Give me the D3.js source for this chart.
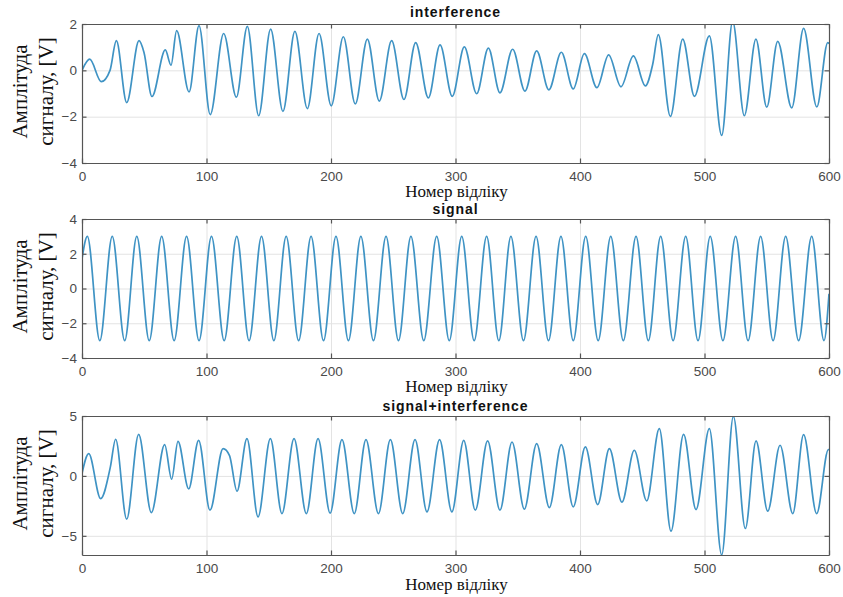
<!DOCTYPE html>
<html>
<head>
<meta charset="utf-8">
<script src="https://cdn.jsdelivr.net/npm/d3@7"></script>
<style>
  html, body { margin: 0; padding: 0; background: #fff; }
  svg { display: block; }
</style>
</head>
<body>
<svg id="chart" width="843" height="597"></svg>
<script>
// ---------- data ----------
const xTicks = [0, 100, 200, 300, 400, 500, 600];
const yTicksInterference = [-4, -2, 0, 2];
const yTicksSignal = [-4, -2, 0, 2, 4];
const yTicksSum = [-5, 0, 5];

const titles = ["interference", "signal", "signal+interference"];
const xLabel = "Номер відліку";
const yLabel1 = "Амплітуда";
const yLabel2 = "сигналу, [V]";

// interference: [sample, value] at extrema / bends
const interference = [
  [0, 0], [6.2, 0.48], [15.5, -0.49], [22.5, 0.0], [27.6, 1.28], [35.9, -1.39],
  [45.8, 1.28], [49.8, 0.77], [56.2, -1.13], [66.9, 0.88], [71.5, 0.22], [76, 1.71],
  [86, -0.93], [94, 1.93], [103, -1.91], [113.8, 1.59], [124, -1.16], [132.8, 1.90],
  [141.9, -1.96], [151.5, 1.78], [161.4, -1.77], [171, 1.68], [181, -1.65], [190.4, 1.59],
  [200.2, -1.53], [209.9, 1.45], [219.5, -1.45], [229.2, 1.35], [238.8, -1.33], [248.7, 1.28],
  [258.6, -1.26], [268, 1.20], [278.2, -1.19], [287.6, 1.10], [297.4, -1.12], [307.1, 1.01],
  [317, -1.01], [326.4, 0.96], [335.7, -0.97], [345.9, 0.91], [355.8, -0.90], [365.2, 0.84],
  [375, -0.84], [385, 0.78], [394.6, -0.80], [403.5, 0.72], [413.6, -0.75], [423, 0.67],
  [432.9, -0.71], [442.9, 0.62], [452.5, -0.67], [458.4, 0.26], [462.9, 1.54], [472.6, -1.99],
  [482.5, 1.35], [491.9, -1.12], [503.9, 1.49], [513.8, -2.81], [522.6, 2.12], [532, -1.96],
  [541.3, 1.35], [550, -1.59], [558.8, 1.25], [570.1, -1.62], [579.6, 1.81], [590.2, -1.58],
  [599, 1.20], [600, 1.15]
];

// signal: [sample, value] at extrema
const signal = [
  [0, 1.7], [4.3, 3], [14.3, -3], [24.3, 3], [34.3, -3], [44, 3], [54, -3], [64, 3], [74, -3],
  [84, 3], [94, -3], [104, 3], [114.2, -3], [124.3, 3], [134.2, -3], [144.2, 3], [154.1, -3],
  [164, 3], [174, -3], [184, 3], [194, -3], [204, 3], [214, -3], [224, 3], [234.1, -3],
  [244.2, 3], [254.2, -3], [264.2, 3], [274.5, -3], [284.9, 3], [295, -3], [305, 3], [315, -3],
  [325, 3], [334.8, -3], [344.5, 3], [354.6, -3], [364.7, 3], [374.7, -3], [384.7, 3], [394.6, -3],
  [404.6, 3], [414.6, -3], [424.7, 3], [434.8, -3], [445, 3], [454.9, -3], [464.8, 3], [474.8, -3],
  [484.9, 3], [494.8, -3], [504.6, 3], [514.8, -3], [525, 3], [535, -3], [545.1, 3], [555.1, -3],
  [565.2, 3], [575.6, -3], [586.1, 3], [596, -3], [600, -0.3]
];

// signal + interference: [sample, value] at extrema / bends
const sum = [
  [0, 0.2], [5.4, 1.86], [15, -1.89], [22.8, 0.75], [27, 3.06], [35.9, -3.61], [45.5, 3.47],
  [55.7, -3.06], [66.4, 2.61], [72, -0.28], [77.1, 2.89], [85.7, -1.08], [93.7, 2.97],
  [102.8, -2.86], [113.3, 2.28], [118.5, 1.7], [124.5, -1.28], [132.5, 3.11], [141.4, -3.42],
  [151.3, 3.11], [160.6, -3.14], [170.3, 3.11], [180.2, -3.14], [189.6, 3.11], [199.3, -3.10],
  [208.8, 3.03], [218.7, -3.14], [228.1, 3.03], [238.1, -3.14], [247.7, 3.03], [257.6, -3.14],
  [267.5, 3.03], [277.1, -3.0], [287.2, 3.03], [297.1, -3.0], [306.6, 2.97], [315.9, -2.86],
  [325.8, 2.92], [335.7, -2.86], [345.4, 2.83], [355.3, -2.78], [365.2, 2.69], [375.4, -2.64],
  [385, 2.61], [394.6, -2.58], [404.3, 2.42], [414.2, -2.39], [423.6, 2.28], [433.7, -2.19],
  [443.6, 2.14], [453.6, -2.08], [463.7, 3.94], [473.1, -4.61], [483.2, 3.47], [493.2, -2.81],
  [503.9, 3.94], [513.8, -6.6], [523.2, 4.97], [532.8, -4.39], [541.4, 2.92], [550.8, -2.94],
  [560.7, 2.56], [570.9, -3.14], [579.6, 3.44], [590.1, -3.14], [599.5, 2.2], [600, 2.19]
];

// ---------- layout ----------
const panels = [
  { title: titles[0], data: interference, yDomain: [-4, 2], yTicks: yTicksInterference,
    top: 24, bottom: 163, titleY: 17, xLabelY: 197 },
  { title: titles[1], data: signal, yDomain: [-4, 4], yTicks: yTicksSignal,
    top: 219, bottom: 358, titleY: 214, xLabelY: 392 },
  { title: titles[2], data: sum, yDomain: [-6.6, 5], yTicks: yTicksSum,
    top: 416, bottom: 555, titleY: 411, xLabelY: 590 }
];

const left = 82, right = 829;
const svg = d3.select("#chart");
const sans = "'Liberation Sans', Arial, Helvetica, sans-serif";
const serif = "'Liberation Serif', 'Times New Roman', serif";
const lineColor = "#3f93c4";
const fmt = d3.format("d");

const x = d3.scaleLinear().domain([0, 600]).range([left, right]);

panels.forEach((p, i) => {
  const y = d3.scaleLinear().domain(p.yDomain).range([p.bottom, p.top]);
  const h = p.bottom - p.top, w = right - left;
  const g = svg.append("g");

  // grid
  const gx = g.append("g").attr("transform", `translate(0,${p.bottom})`)
    .call(d3.axisBottom(x).tickValues(xTicks).tickSize(-h).tickFormat(""));
  const gy = g.append("g").attr("transform", `translate(${left},0)`)
    .call(d3.axisLeft(y).tickValues(p.yTicks).tickSize(-w).tickFormat(""));
  [gx, gy].forEach(a => {
    a.select(".domain").remove();
    a.selectAll("line").attr("stroke", "#e3e3e3").attr("stroke-width", 1);
  });

  // clip
  svg.append("clipPath").attr("id", "clip" + i)
    .append("rect").attr("x", left).attr("y", p.top).attr("width", w).attr("height", h);

  // line
  const line = d3.line().x(d => x(d[0])).y(d => y(d[1])).curve(d3.curveMonotoneX);
  g.append("path").datum(p.data)
    .attr("clip-path", `url(#clip${i})`)
    .attr("fill", "none").attr("stroke", lineColor).attr("stroke-width", 1.7)
    .attr("stroke-linejoin", "round")
    .attr("d", line);

  // axes (box with inward ticks)
  const axB = g.append("g").attr("transform", `translate(0,${p.bottom})`)
    .call(d3.axisBottom(x).tickValues(xTicks).tickSizeInner(-4.5).tickSizeOuter(0)
      .tickPadding(8).tickFormat(fmt));
  const axT = g.append("g").attr("transform", `translate(0,${p.top})`)
    .call(d3.axisTop(x).tickValues(xTicks).tickSizeInner(-4.5).tickSizeOuter(0).tickFormat(""));
  const axL = g.append("g").attr("transform", `translate(${left},0)`)
    .call(d3.axisLeft(y).tickValues(p.yTicks).tickSizeInner(-4.5).tickSizeOuter(0)
      .tickPadding(5).tickFormat(fmt));
  const axR = g.append("g").attr("transform", `translate(${right},0)`)
    .call(d3.axisRight(y).tickValues(p.yTicks).tickSizeInner(-4.5).tickSizeOuter(0).tickFormat(""));
  [axB, axT, axL, axR].forEach(a => {
    a.select(".domain").attr("stroke", "#555").attr("stroke-width", 1.2);
    a.selectAll(".tick line").attr("stroke", "#555").attr("stroke-width", 1.2);
    a.selectAll(".tick text").attr("fill", "#4a4a4a")
      .style("font-family", sans).style("font-size", "13.5px");
  });

  // title
  svg.append("text").attr("x", (left + right) / 2).attr("y", p.titleY)
    .attr("text-anchor", "middle")
    .style("font-family", sans).style("font-weight", "bold").style("font-size", "14px")
    .style("letter-spacing", "0.9px").attr("fill", "#111")
    .text(p.title);

  // x label
  svg.append("text").attr("x", (left + right) / 2 + 1).attr("y", p.xLabelY)
    .attr("text-anchor", "middle")
    .style("font-family", serif).style("font-size", "17px").attr("fill", "#111")
    .text(xLabel);

  // y label (two lines, rotated)
  const cy = (p.top + p.bottom) / 2 - 2;
  svg.append("text").attr("transform", `translate(27,${cy}) rotate(-90)`)
    .attr("text-anchor", "middle")
    .style("font-family", serif).style("font-size", "21px").attr("fill", "#111")
    .text(yLabel1);
  svg.append("text").attr("transform", `translate(53,${cy}) rotate(-90)`)
    .attr("text-anchor", "middle")
    .style("font-family", serif).style("font-size", "21px").attr("fill", "#111")
    .text(yLabel2);
});
</script>
</body>
</html>
